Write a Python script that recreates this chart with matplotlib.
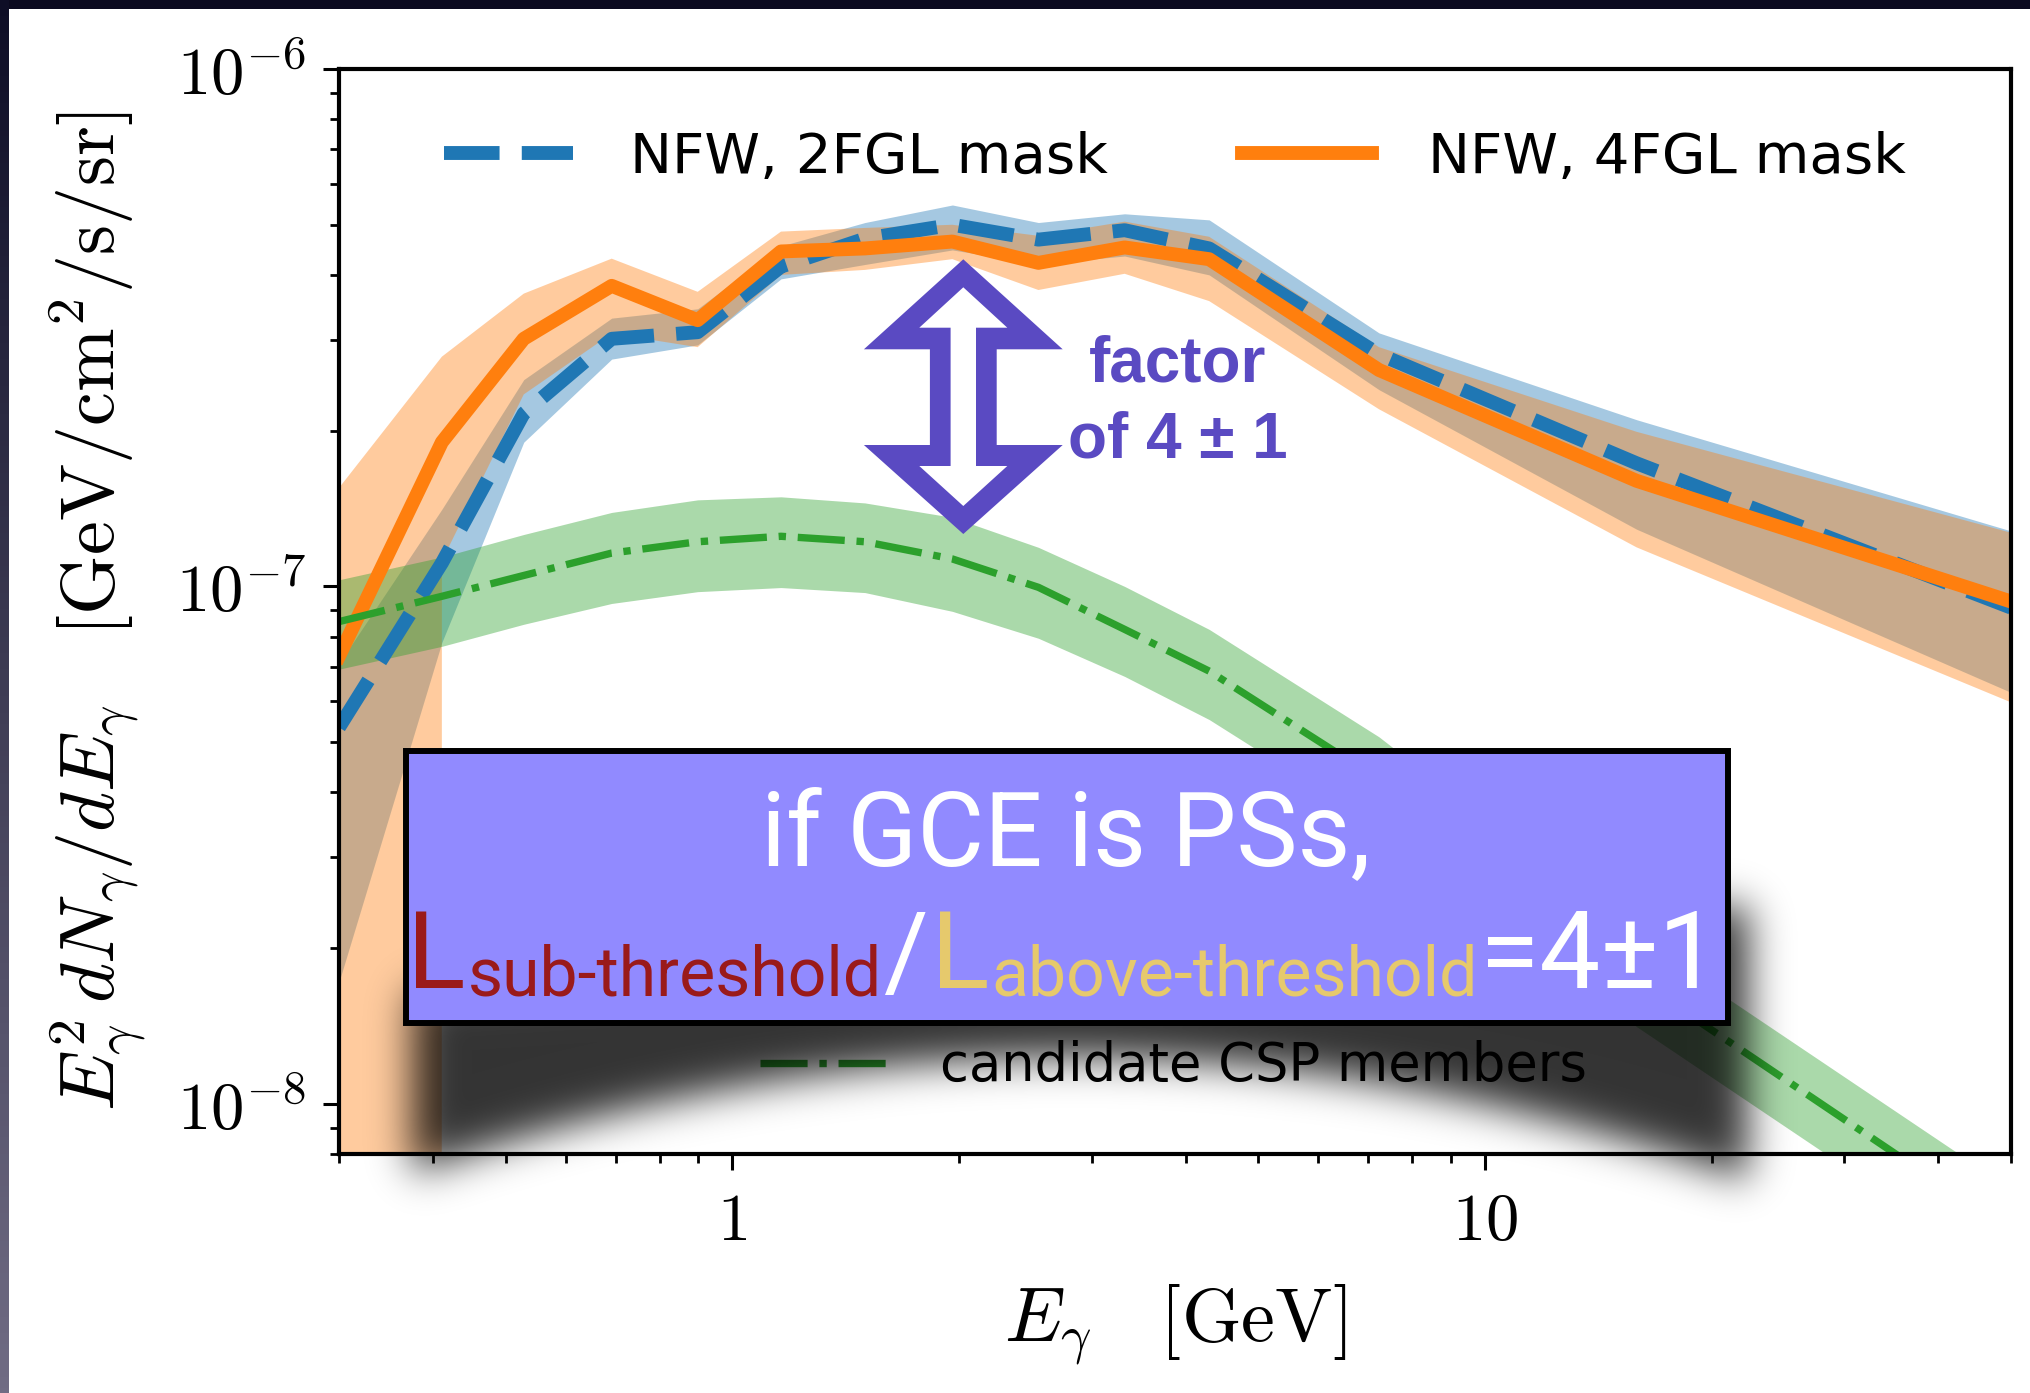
import numpy as np
import matplotlib
matplotlib.use("Agg")
import matplotlib.pyplot as plt
from matplotlib.patches import Rectangle, Polygon
from matplotlib.ticker import FuncFormatter, FixedLocator

W, H = 2031, 1393
DPI = 100

plt.rcParams["mathtext.fontset"] = "cm"
plt.rcParams["font.family"] = ["DejaVu Sans"]

# ---- spectra (GeV, GeV/cm^2/s/sr) ----
energy = [0.3, 0.411, 0.528, 0.691, 0.899, 1.16, 1.50, 1.96, 2.55, 3.32, 4.30, 7.23, 15.9, 50.0]

nfw_2fgl = [5.34e-8, 1.11e-7, 2.16e-7, 3.01e-7, 3.10e-7, 4.15e-7, 4.70e-7, 5.00e-7, 4.68e-7,
            4.88e-7, 4.50e-7, 2.81e-7, 1.73e-7, 9.10e-8]
nfw_2fgl_lo = [1.72e-8, 7.80e-8, 1.90e-7, 2.75e-7, 2.93e-7, 3.93e-7, 4.19e-7, 4.47e-7, 4.20e-7,
               4.35e-7, 4.00e-7, 2.40e-7, 1.29e-7, 6.24e-8]
nfw_2fgl_hi = [7.10e-8, 1.41e-7, 2.51e-7, 3.30e-7, 3.44e-7, 4.55e-7, 5.05e-7, 5.46e-7, 5.05e-7,
               5.25e-7, 5.11e-7, 3.09e-7, 2.10e-7, 1.28e-7]

nfw_4fgl = [7.33e-8, 1.90e-7, 3.01e-7, 3.81e-7, 3.27e-7, 4.44e-7, 4.50e-7, 4.64e-7, 4.22e-7,
            4.52e-7, 4.29e-7, 2.62e-7, 1.60e-7, 9.35e-8]
nfw_4fgl_lo = [0.0, 1.12e-7, 2.35e-7, 3.08e-7, 2.90e-7, 4.00e-7, 4.09e-7, 4.29e-7, 3.74e-7,
               4.02e-7, 3.56e-7, 2.20e-7, 1.19e-7, 5.97e-8]
nfw_4fgl_hi = [1.55e-7, 2.78e-7, 3.68e-7, 4.30e-7, 3.71e-7, 4.85e-7, 4.93e-7, 5.00e-7, 4.76e-7,
               5.07e-7, 4.74e-7, 2.90e-7, 1.99e-7, 1.27e-7]

csp = [8.55e-8, 9.57e-8, 1.05e-7, 1.16e-7, 1.22e-7, 1.25e-7, 1.22e-7, 1.13e-7, 9.96e-8,
       8.26e-8, 6.86e-8, 4.23e-8, 1.74e-8, 5.66e-9]
csp_lo = [6.92e-8, 7.66e-8, 8.45e-8, 9.27e-8, 9.77e-8, 9.95e-8, 9.73e-8, 8.95e-8, 7.94e-8,
          6.70e-8, 5.53e-8, 3.43e-8, 1.41e-8, 4.60e-9]
csp_hi = [1.03e-7, 1.14e-7, 1.26e-7, 1.39e-7, 1.47e-7, 1.49e-7, 1.45e-7, 1.36e-7, 1.19e-7,
          1.00e-7, 8.26e-8, 5.12e-8, 2.10e-8, 6.85e-9]

labels_top = ["NFW, 2FGL mask", "NFW, 4FGL mask"]
label_csp = "candidate CSP members"
x_ticks = [1, 10]

PURPLE = "#5a4ac2"
BOX_FACE = "#918aff"
RED_TXT = "#9a1a1a"
GOLD_TXT = "#e6c96c"

fig = plt.figure(figsize=(W / DPI, H / DPI), dpi=DPI, facecolor="white")

# ---- main spectrum panel ----
ax = fig.add_axes([339 / W, 1 - 1154 / H, (2011 - 339) / W, (1154 - 69) / H])
ax.set_xscale("log")
ax.set_yscale("log", nonpositive="clip")

ax.fill_between(energy, nfw_2fgl_lo, nfw_2fgl_hi, color="C0", alpha=0.4, lw=0)
ax.fill_between(energy, nfw_4fgl_lo, nfw_4fgl_hi, color="C1", alpha=0.4, lw=0)
ax.fill_between(energy, csp_lo, csp_hi, color="C2", alpha=0.4, lw=0)

l2, = ax.plot(energy, nfw_2fgl, color="C0", lw=10, dashes=(4.0, 1.6), label=labels_top[0])
l4, = ax.plot(energy, nfw_4fgl, color="C1", lw=10, label=labels_top[1])
lc, = ax.plot(energy, csp, color="C2", lw=5.3, ls="-.", label=label_csp)

ax.set_xlim(0.3, 50)
ax.set_ylim(8e-9, 1e-6)

ax.xaxis.set_major_locator(FixedLocator(x_ticks))
ax.xaxis.set_major_formatter(FuncFormatter(lambda v, p: rf"${v:g}$"))
ax.yaxis.set_major_formatter(FuncFormatter(lambda v, p: rf"$10^{{{int(round(np.log10(v)))}}}$"))

ax.tick_params(which="major", length=11.5, width=2.2, labelsize=48)
ax.tick_params(which="minor", length=6.5, width=2.0)
ax.tick_params(axis="y", which="major", pad=12)
ax.tick_params(axis="x", which="major", pad=13)
for s in ax.spines.values():
    s.set_linewidth(3.0)

ax.set_xlabel(r"$E_\gamma\quad[\mathrm{GeV}]$", fontsize=55, labelpad=21)
ax.set_ylabel(r"$E_\gamma^2\, dN_\gamma/dE_\gamma\quad[\mathrm{GeV/cm^2/s/sr}]$",
              fontsize=55, labelpad=20)

leg1 = ax.legend(handles=[l2, l4], loc="center", bbox_to_anchor=(0.5, 0.918), ncol=2,
                 fontsize=40.5, frameon=False, handlelength=2.3, handletextpad=1.0,
                 columnspacing=2.4)
ax.add_artist(leg1)
ax.legend(handles=[lc], loc="center", bbox_to_anchor=(0.499, 0.081), fontsize=38,
          frameon=False, handlelength=2.4, handletextpad=1.0)

# ---- overlay layer in pixel coordinates ----
ov = fig.add_axes([0, 0, 1, 1], zorder=10)
ov.set_xlim(0, W)
ov.set_ylim(H, 0)
ov.axis("off")
ov.patch.set_alpha(0)


def gaussian_blur(a, sigma):
    r = int(3 * sigma)
    k = np.exp(-0.5 * (np.arange(-r, r + 1) / sigma) ** 2)
    k /= k.sum()
    a = np.apply_along_axis(lambda v: np.convolve(v, k, mode="same"), 0, a)
    a = np.apply_along_axis(lambda v: np.convolve(v, k, mode="same"), 1, a)
    return a


# curved drop shadow under the call-out box
yy, xx = np.mgrid[0:H, 0:W] + 0.5
u = (xx - 1070) / 665
shadow_bottom = 1058 + 118 * u ** 2
shadow_top = 990 - 85 * (xx - 412) / (1748 - 412)
mask = ((xx > 412) & (xx < 1748) & (yy > shadow_top) & (yy < shadow_bottom)).astype(float)
alpha = 0.8 * gaussian_blur(mask, 20)
shadow = np.zeros((H, W, 4))
shadow[..., 3] = alpha
ov.imshow(shadow, extent=(0, W, H, 0), aspect="auto", interpolation="bilinear", zorder=1)

# dark slide edges
ov.add_patch(Rectangle((0, 0), W, 9, color="#0b0a1f", lw=0, zorder=5))
grad = np.linspace(0, 1, 256)[:, None, None]
top_c = np.array([14, 14, 38]) / 255
bot_c = np.array([112, 108, 132]) / 255
strip = top_c + (bot_c - top_c) * grad
ov.imshow(strip, extent=(0, 9, H, 0), aspect="auto", zorder=5)

# call-out box
ov.add_patch(Rectangle((405.5, 751), 1728 - 405.5, 1022.5 - 751, facecolor=BOX_FACE,
                       edgecolor="black", lw=4.3, zorder=2))

BOX_FONT = dict(family=["Roboto", "DejaVu Sans"], weight="normal")
ov.text(1066, 865, "if GCE is PSs,", color="white", fontsize=74, ha="center",
        va="baseline", zorder=3, **BOX_FONT)

pieces = [("L", RED_TXT, 78, 0), ("sub-threshold", RED_TXT, 49, 7), ("/", "white", 78, 0),
          ("L", GOLD_TXT, 78, 0), ("above-threshold", GOLD_TXT, 49, 7), ("=4±1", "white", 78, 0)]
renderer = fig.canvas.get_renderer()
arts = []
widths = []
for s, c, fs, dy in pieces:
    t = ov.text(0, 988 + dy, s, color=c, fontsize=fs, ha="left", va="baseline",
                zorder=3, **BOX_FONT)
    arts.append(t)
    widths.append(t.get_window_extent(renderer).width + 2)
x = 1064 - sum(widths) / 2
for t, w in zip(arts, widths):
    t.set_x(x)
    x += w

# double-headed "factor" arrow
cx = 963.3
outer = [(cx, 259.3), (cx + 99.4, 349.3), (cx + 33.4, 349.3), (cx + 33.4, 445),
         (cx + 99.4, 445), (cx, 534), (cx - 99.4, 445), (cx - 33.4, 445),
         (cx - 33.4, 349.3), (cx - 99.4, 349.3)]
inner = [(cx, 287.3), (cx + 44, 327.7), (cx + 12.7, 327.7), (cx + 12.7, 466),
         (cx + 44, 466), (cx, 506), (cx - 44, 466), (cx - 12.7, 466),
         (cx - 12.7, 327.7), (cx - 44, 327.7)]
ov.add_patch(Polygon(outer, closed=True, facecolor=PURPLE, lw=0, zorder=2))
ov.add_patch(Polygon(inner, closed=True, facecolor="white", lw=0, zorder=2.1))

ARROW_FONT = dict(family=["Liberation Sans", "DejaVu Sans"], weight="bold")
ov.text(1178, 382, "factor", color=PURPLE, fontsize=46, ha="center", va="baseline",
        zorder=3, **ARROW_FONT)
ov.text(1178, 458, "of 4 ± 1", color=PURPLE, fontsize=46, ha="center", va="baseline",
        zorder=3, **ARROW_FONT)

fig.savefig("out.png", dpi=DPI, facecolor="white")
